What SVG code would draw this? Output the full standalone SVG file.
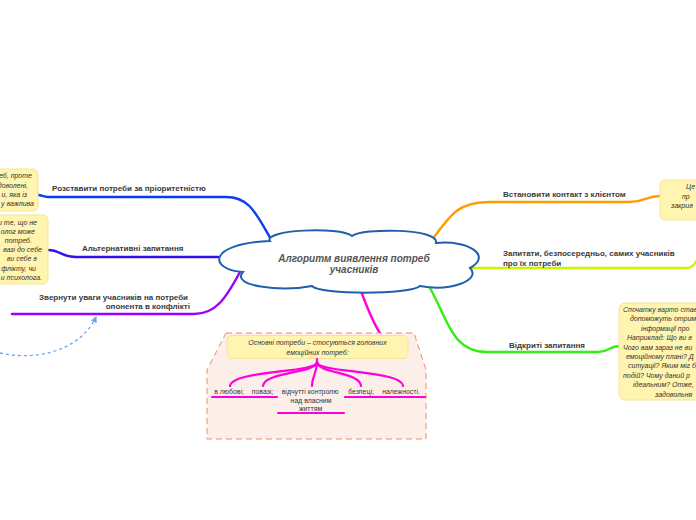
<svg xmlns="http://www.w3.org/2000/svg" width="696" height="520" viewBox="0 0 696 520">
<style>
.lbl{font-family:"Liberation Sans",Arial,sans-serif;font-weight:bold;font-size:8px;fill:#3a3a3a}
.note{font-family:"Liberation Sans",Arial,sans-serif;font-style:italic;font-size:7px;fill:#333}
.item{font-family:"Liberation Sans",Arial,sans-serif;font-size:6.9px;fill:#333}
.nbox{fill:#fff4b0;stroke:#f3e49a;stroke-width:1}
.br{fill:none;stroke-width:2.4;stroke-linecap:round}
.mg{fill:none;stroke:#ff00dd;stroke-width:2.2;stroke-linecap:round}
</style>
<defs>
<marker id="arr" viewBox="0 0 6 6" refX="5" refY="3" markerWidth="5" markerHeight="5" orient="auto">
<path d="M0,0 L6,3 L0,6 z" fill="#6aa6ef"/>
</marker>
</defs>
<rect width="696" height="520" fill="#ffffff"/>

<g id="connectors">
<path class="br" stroke="#0a3df0" d="M272,241 C256,214 250,197 226,197 L48,197 C43,197 42,195 38,195"/>
<path class="br" stroke="#3311ee" d="M218,257 L76,257 C62,257 60,250 48,250"/>
<path class="br" stroke="#9a00ff" d="M240,272 C226,298 216,314 194,314 L12,314"/>
<path fill="none" stroke="#6aa6ef" stroke-width="1.3" stroke-dasharray="3,3" d="M0,353 C40,362 82,348 96,317" marker-end="url(#arr)"/>
<path class="br" stroke="#ff9d00" d="M432,240 C452,212 460,202 490,202 L630,202 C645,202 646,196 660,196"/>
<path class="br" stroke="#c8f500" d="M470,268 L686,268 C692,268 694,265 697,260"/>
<path class="br" stroke="#33ee11" d="M430,288 C448,320 452,352 487,352 L598,352 C610,352 608,346 620,346"/>
<path class="br" stroke="#ff00dd" d="M361,291 C368,310 375,328 383,337"/>
</g>

<g id="central">
<path d="M270,241 C262,230 340,226 352,236 C362,228 440,228 436,243 C470,240 492,256 470,268 C482,280 450,292 420,286 C410,295 320,295 312,286 C280,292 230,286 243,272 C210,270 205,244 270,241 Z" fill="#ffffff" stroke="#1f5fae" stroke-width="2"/>
<text x="354" y="262" text-anchor="middle" font-family="Liberation Sans, Arial, sans-serif" font-weight="bold" font-style="italic" font-size="10" fill="#555">Алгоритм виявлення потреб</text>
<text x="354" y="273" text-anchor="middle" font-family="Liberation Sans, Arial, sans-serif" font-weight="bold" font-style="italic" font-size="10" fill="#555">учасників</text>
</g>

<g id="n-priority">
<text class="lbl" x="52" y="191">Розставити потреби за пріоритетністю</text>
</g>
<g id="note-priority">
<rect class="nbox" x="-10" y="169" width="48" height="42" rx="5"/>
<text class="note" text-anchor="end" x="32" y="178">еб, проте</text>
<text class="note" text-anchor="end" x="28" y="187.5">доволені,</text>
<text class="note" text-anchor="end" x="27" y="197">и, яка із</text>
<text class="note" text-anchor="end" x="34" y="206">у важлива</text>
</g>

<g id="n-alt">
<text class="lbl" x="82" y="251">Альтернативні запитання</text>
</g>
<g id="note-alt">
<rect class="nbox" x="-10" y="215" width="58" height="69" rx="5"/>
<text class="note" text-anchor="end" x="37" y="224.5">и те, що не</text>
<text class="note" text-anchor="end" x="35" y="233.5">олог може</text>
<text class="note" text-anchor="end" x="32" y="242.5">потреб.</text>
<text class="note" text-anchor="end" x="42" y="251.5">вазі до себе</text>
<text class="note" text-anchor="end" x="37" y="261">ви себе в</text>
<text class="note" text-anchor="end" x="36" y="270.5">флікту, чи</text>
<text class="note" text-anchor="end" x="42" y="280">и психолога.</text>
</g>

<g id="n-opponent">
<text class="lbl" x="188" y="299.5" text-anchor="end">Звернути уваги учасників на потреби</text>
<text class="lbl" x="190" y="309" text-anchor="end">опонента в конфлікті</text>
</g>

<g id="n-contact">
<text class="lbl" x="503" y="197">Встановити контакт з клієнтом</text>
</g>
<g id="note-contact">
<rect class="nbox" x="660" y="180" width="50" height="40" rx="5"/>
<text class="note" x="686" y="189">Це</text>
<text class="note" x="682" y="198.5">пр</text>
<text class="note" x="671" y="208">закрив</text>
</g>

<g id="n-ask">
<text class="lbl" x="503" y="256">Запитати, безпосередньо, самих учасників</text>
<text class="lbl" x="503" y="265.5">про їх потреби</text>
</g>

<g id="n-open">
<text class="lbl" x="509" y="348">Відкриті запитання</text>
</g>
<g id="note-open">
<rect class="nbox" x="619" y="303" width="90" height="97" rx="6"/>
<text class="note" x="623" y="312">Спочатку варто стави</text>
<text class="note" x="630" y="321.4">допоможуть отрим</text>
<text class="note" x="641" y="330.8">інформації про</text>
<text class="note" x="627" y="340.2">Наприклад: Що ви в</text>
<text class="note" x="623" y="349.6">Чого вам зараз не ви</text>
<text class="note" x="626" y="359">емоційному плані? Д</text>
<text class="note" x="628" y="368.4">ситуації? Яким міг б</text>
<text class="note" x="623" y="377.8">подій? Чому даний р</text>
<text class="note" x="633" y="387.2">ідеальним? Отже,</text>
<text class="note" x="655" y="396.6">задовольня</text>
</g>

<g id="boundary">
<path d="M226,333 L414,333 L426,370 L426,439 L207,439 L207,370 Z" fill="#fcefe9" stroke="#f08a6a" stroke-width="1" stroke-dasharray="6,4"/>
</g>

<g id="n-basic">
<rect class="nbox" x="227" y="335.5" width="181" height="23" rx="5"/>
<text class="note" x="317.5" y="345" text-anchor="middle" font-size="7.2">Основні потреби – стосуються головних</text>
<text class="note" x="317.5" y="354.5" text-anchor="middle" font-size="7.2">емоційних потреб:</text>
</g>

<g id="tree-connectors">
<path class="mg" d="M317,359 L317,364"/>
<path class="mg" d="M317,362 C317,373 232,370 230,386"/>
<path class="mg" d="M317,362 C317,373 264,372 263,386"/>
<path class="mg" d="M317,362 C317,373 312,376 312,386"/>
<path class="mg" d="M317,362 C317,373 360,372 361,386"/>
<path class="mg" d="M317,362 C317,373 402,370 403,386"/>
</g>

<g id="n-love">
<text class="item" x="229" y="394" text-anchor="middle">в любові;</text>
<path class="mg" d="M212,397 L248,397"/>
</g>
<g id="n-respect">
<text class="item" x="262.5" y="394" text-anchor="middle">повазі;</text>
<path class="mg" d="M249,397 L277,397"/>
</g>
<g id="n-control">
<text class="item" x="310" y="394" text-anchor="middle">відчутті контролю</text>
<text class="item" x="311" y="402.5" text-anchor="middle">над власним</text>
<text class="item" x="310.5" y="410.5" text-anchor="middle">життям</text>
<path class="mg" d="M278,413 L344,413"/>
</g>
<g id="n-safety">
<text class="item" x="361" y="394" text-anchor="middle">безпеці;</text>
<path class="mg" d="M345,397 L377,397"/>
</g>
<g id="n-belonging">
<text class="item" x="401" y="394" text-anchor="middle">належності.</text>
<path class="mg" d="M378,397 L425,397"/>
</g>
</svg>
